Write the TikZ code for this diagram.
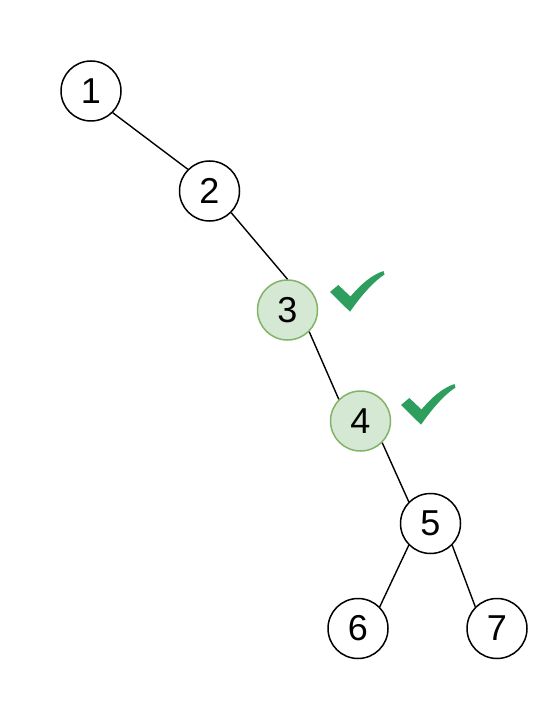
\documentclass[tikz,border=0pt]{standalone}
\usepackage{fontspec}
\setmainfont{Liberation Sans}
\definecolor{gfill}{HTML}{D5E8D4}
\definecolor{gdraw}{HTML}{82B366}
\definecolor{check}{RGB}{46,158,94}
\tikzset{
  tnode/.style={circle, draw=black, line width=1.5pt, fill=white, minimum size=60pt, inner sep=0pt, font=\fontsize{36pt}{40pt}\selectfont},
  vnode/.style={tnode, draw=gdraw, fill=gfill},
  edge/.style={line width=1.4pt, black},
  checkmark/.style={fill=check, draw=none}
}
\begin{document}
\begin{tikzpicture}[x=1pt,y=-1pt]
\useasboundingbox (0,0) rectangle (555,714);
\node[tnode] (n1) at (91,91) {1};
\node[tnode] (n2) at (209.5,191) {2};
\node[vnode] (n3) at (287.5,310) {3};
\node[vnode] (n4) at (360.5,421) {4};
\node[tnode] (n5) at (430.5,523.5) {5};
\node[tnode] (n6) at (358,628.5) {6};
\node[tnode] (n7) at (497,628.5) {7};
\draw[edge] (n1.-45) -- (n2.135);
\draw[edge] (n2.-45) -- (n3.north);
\draw[edge] (n3.-45) -- (n4.135);
\draw[edge] (n4.-45) -- (n5.135);
\draw[edge] (n5.-135) -- (n6.45);
\draw[edge] (n5.-45) -- (n7.135);
\foreach \dx/\dy in {0/0, 71/113}{
  \fill[checkmark, shift={(\dx,\dy)}] (330,292) -- (338.3,285) -- (350.5,296.5)
    .. controls (362,283) and (372,275) .. (383.5,271)
    -- (384.5,274.5)
    .. controls (373,282) and (361,296) .. (350,311.7) -- cycle;
}
\end{tikzpicture}
\end{document}
